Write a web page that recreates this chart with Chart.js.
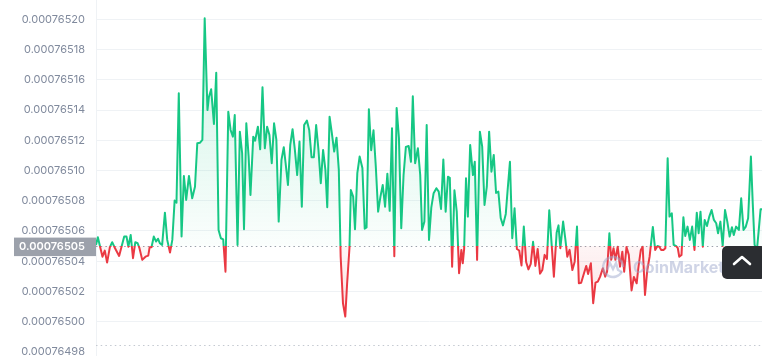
<!DOCTYPE html>
<html><head><meta charset="utf-8">
<script src="https://cdn.jsdelivr.net/npm/chart.js"></script>
<style>
html,body{margin:0;padding:0;background:#fff;overflow:hidden;width:762px;height:356px}
#wrap{position:relative;width:762px;height:356px}
canvas{display:block}
#up{position:absolute;left:722px;top:246px;width:44px;height:33px;background:#2b2d31;border-radius:5px}
#up svg{position:absolute;left:0;top:0}
</style></head>
<body><div id="wrap"><canvas id="c" width="762" height="356"></canvas>
<div id="up"><svg width="44" height="33"><polyline points="12,18 20,11 28,18" fill="none" stroke="#fff" stroke-width="2.6" stroke-linecap="round" stroke-linejoin="round"/></svg></div></div>
<script>
// time of each sample, minutes from start of the 24h window
const times = [
0,4,14,19,24,30,35,40,50,61,
66,70,75,80,85,90,94,100,107,113,
116,120,125,130,134,138,143,149,154,160,
165,170,174,179,185,190,195,201,208,214,
219,225,230,235,241,244,249,255,260,265,
270,275,280,286,291,296,300,306,311,316,
320,325,330,334,340,344,350,355,360,365,
370,375,380,385,390,395,401,406,410,415,
420,425,430,435,440,445,450,456,461,466,
471,476,481,486,491,496,500,505,510,515,
520,525,529,534,539,543,548,551,556,560,
565,570,576,581,585,590,595,600,605,610,
615,620,625,630,635,640,645,650,655,660,
665,670,676,681,685,690,696,701,705,710,
715,720,725,730,736,741,746,751,756,761,
765,770,775,780,785,790,793,796,800,804,
809,815,819,824,830,835,840,845,850,855,
860,865,870,875,880,886,890,895,900,905,
910,915,920,925,930,935,940,945,950,955,
960,965,970,975,980,986,990,996,1000,1004,
1010,1015,1019,1024,1030,1035,1040,1044,1049,1054,
1060,1064,1070,1075,1080,1085,1090,1096,1101,1105,
1110,1114,1119,1123,1128,1133,1138,1142,1147,1152,
1158,1163,1169,1173,1178,1182,1187,1192,1197,1204,
1209,1214,1218,1222,1227,1231,1236,1240,1245,1249,
1254,1258,1261,1266,1270,1274,1279,1284,1289,1294,
1299,1303,1307,1312,1316,1321,1326,1331,1336,1341,
1345,1350,1355,1360,1365,1370,1375,1379,1384,1390,
1395,1400,1405,1410,1416,1420,1424,1429,1433,1437,
1440];

const prices = [
0.0007650508,0.0007650559,0.0007650430,0.0007650470,0.0007650391,0.0007650493,0.0007650526,0.0007650493,0.0007650435,0.0007650563,
0.0007650563,0.0007650496,0.0007650574,0.0007650420,0.0007650526,0.0007650519,0.0007650486,0.0007650409,0.0007650430,0.0007650437,
0.0007650493,0.0007650493,0.0007650563,0.0007650530,0.0007650549,0.0007650519,0.0007650508,0.0007650721,0.0007650541,0.0007650457,
0.0007650541,0.0007650801,0.0007650787,0.0007651511,0.0007650563,0.0007650964,0.0007650805,0.0007650964,0.0007650816,0.0007650893,
0.0007651180,0.0007651184,0.0007651202,0.0007652007,0.0007651400,0.0007651484,0.0007651537,0.0007651308,0.0007651647,0.0007650607,
0.0007650552,0.0007650545,0.0007650331,0.0007651389,0.0007651268,0.0007651224,0.0007651367,0.0007650508,0.0007651257,0.0007651114,
0.0007650612,0.0007651312,0.0007651092,0.0007650838,0.0007651224,0.0007651197,0.0007651290,0.0007651140,0.0007651550,0.0007651147,
0.0007651290,0.0007651235,0.0007651048,0.0007651312,0.0007651202,0.0007650662,0.0007651070,0.0007651154,0.0007651048,0.0007650904,
0.0007651169,0.0007651273,0.0007651136,0.0007650970,0.0007651191,0.0007650761,0.0007651301,0.0007651330,0.0007651268,0.0007651088,
0.0007651088,0.0007651301,0.0007651136,0.0007650916,0.0007651136,0.0007651004,0.0007650757,0.0007651356,0.0007651246,0.0007651125,
0.0007651217,0.0007651004,0.0007650430,0.0007650122,0.0007650034,0.0007650254,0.0007650486,0.0007650871,0.0007650827,0.0007650612,
0.0007650982,0.0007651092,0.0007651017,0.0007650615,0.0007650623,0.0007651405,0.0007651134,0.0007651266,0.0007651025,0.0007650728,
0.0007650827,0.0007650904,0.0007650761,0.0007650979,0.0007650733,0.0007651279,0.0007650433,0.0007651414,0.0007651215,0.0007650618,
0.0007650970,0.0007651156,0.0007651162,0.0007651058,0.0007651491,0.0007651048,0.0007651147,0.0007650970,0.0007650607,0.0007650662,
0.0007651301,0.0007650541,0.0007650756,0.0007650850,0.0007650883,0.0007650860,0.0007650746,0.0007651072,0.0007650728,0.0007650959,
0.0007650952,0.0007650364,0.0007650869,0.0007650728,0.0007650321,0.0007650475,0.0007650387,0.0007650481,0.0007650949,0.0007650695,
0.0007651169,0.0007650970,0.0007651058,0.0007650409,0.0007651257,0.0007651158,0.0007650772,0.0007650893,0.0007651257,0.0007650992,
0.0007651103,0.0007650852,0.0007650860,0.0007650686,0.0007650637,0.0007650713,0.0007650871,0.0007651058,0.0007650552,0.0007650750,
0.0007650481,0.0007650471,0.0007650372,0.0007650629,0.0007650395,0.0007650346,0.0007650382,0.0007650528,0.0007650369,0.0007650481,
0.0007650318,0.0007650342,0.0007650442,0.0007650415,0.0007650737,0.0007650475,0.0007650298,0.0007650590,0.0007650637,0.0007650486,
0.0007650662,0.0007650541,0.0007650430,0.0007650475,0.0007650342,0.0007650397,0.0007650629,0.0007650254,0.0007650258,0.0007650309,
0.0007650369,0.0007650316,0.0007650387,0.0007650122,0.0007650258,0.0007650265,0.0007650298,0.0007650354,0.0007650298,0.0007650331,
0.0007650585,0.0007650409,0.0007650486,0.0007650409,0.0007650496,0.0007650364,0.0007650463,0.0007650331,0.0007650494,0.0007650442,
0.0007650207,0.0007650296,0.0007650254,0.0007650364,0.0007650475,0.0007650496,0.0007650177,0.0007650342,0.0007650430,0.0007650627,
0.0007650475,0.0007650501,0.0007650496,0.0007650475,0.0007650475,0.0007650486,0.0007651081,0.0007650695,0.0007650717,0.0007650508,
0.0007650501,0.0007650486,0.0007650430,0.0007650442,0.0007650691,0.0007650567,0.0007650629,0.0007650541,0.0007650629,0.0007650475,
0.0007650721,0.0007650585,0.0007650728,0.0007650496,0.0007650673,0.0007650633,0.0007650695,0.0007650739,0.0007650673,0.0007650651,
0.0007650585,0.0007650662,0.0007650501,0.0007650739,0.0007650662,0.0007650563,0.0007650625,0.0007650574,0.0007650629,0.0007650607,
0.0007650816,0.0007650607,0.0007650629,0.0007650684,0.0007651092,0.0007650783,0.0007650508,0.0007650475,0.0007650607,0.0007650744,
0.0007650744];

const yTickLabels = ['0.00076498','0.00076500','0.00076502','0.00076504','0.00076506','0.00076508',
  '0.00076510','0.00076512','0.00076514','0.00076516','0.00076518','0.00076520'];
const baselinePrice = 0.00076505;
const floorLinePrice = 0.0007649844;
const yMin = 0.00076497732, yMax = 0.00076521276;

const GREEN = '#16c784', RED = '#ea3943';
const points = times.map((t, i) => ({x: t, y: prices[i]}));

const gradPlugin = {
  id: 'grad',
  afterLayout(chart) {
    const a = chart.chartArea, y0 = chart.scales.y.getPixelForValue(baselinePrice);
    const c = chart.ctx;
    const f = Math.min(1, Math.max(0, (y0 - a.top) / (a.bottom - a.top)));
    const stroke = c.createLinearGradient(0, a.top, 0, a.bottom);
    stroke.addColorStop(0, GREEN); stroke.addColorStop(f, GREEN);
    stroke.addColorStop(f, RED); stroke.addColorStop(1, RED);
    const up = c.createLinearGradient(0, a.top + 18, 0, y0);
    up.addColorStop(0, 'rgba(22,199,132,0.22)'); up.addColorStop(1, 'rgba(22,199,132,0.02)');
    const dn = c.createLinearGradient(0, y0, 0, y0 + 70);
    dn.addColorStop(0, 'rgba(234,57,67,0.05)'); dn.addColorStop(1, 'rgba(234,57,67,0.16)');
    const ds = chart.data.datasets[0];
    ds.borderColor = stroke;
    ds.fill = {target: {value: baselinePrice}, above: up, below: dn};
  },
  beforeDatasetsDraw(chart) {
    const c = chart.ctx, a = chart.chartArea, ys = chart.scales.y;
    c.save();
    c.lineWidth = 1;
    c.setLineDash([1.5, 3.2]);
    c.strokeStyle = '#9aa0aa';
    let y = Math.round(ys.getPixelForValue(baselinePrice)) + 0.5;
    c.beginPath(); c.moveTo(a.left, y); c.lineTo(a.right, y); c.stroke();
    c.strokeStyle = '#c4c9d1';
    y = Math.round(ys.getPixelForValue(floorLinePrice)) + 0.5;
    c.beginPath(); c.moveTo(a.left, y); c.lineTo(a.right, y); c.stroke();
    c.restore();
  },
  afterDatasetsDraw(chart) {
    // watermark
    const c = chart.ctx, a = chart.chartArea;
    const cx = a.right - 149, cy = a.bottom - 89;
    c.save();
    c.strokeStyle = 'rgba(160,170,205,0.5)';
    c.fillStyle = 'rgba(160,170,205,0.5)';
    c.lineWidth = 2.4;
    c.beginPath(); c.arc(cx, cy, 10, Math.PI * 0.15, Math.PI * 2.0); c.stroke();
    c.beginPath();
    c.moveTo(cx - 6, cy + 3); c.lineTo(cx - 3, cy - 4); c.lineTo(cx, cy + 2);
    c.lineTo(cx + 3, cy - 4); c.lineTo(cx + 5, cy + 3); c.lineTo(cx + 9, cy + 5);
    c.stroke();
    c.font = '700 16px Inter';
    c.textBaseline = 'middle';
    c.fillText('CoinMarketCap', cx + 20, cy + 1);
    c.restore();
  },
  afterDraw(chart) {
    const c = chart.ctx, a = chart.chartArea, ys = chart.scales.y;
    const y = ys.getPixelForValue(baselinePrice);
    c.save();
    c.fillStyle = '#9ca1ab';
    c.fillRect(14, y - 8.5, a.left - 14, 18.5);
    c.fillStyle = '#ffffff';
    c.font = '600 11px Inter';
    c.textAlign = 'right';
    c.textBaseline = 'middle';
    c.fillText(baselinePrice.toFixed(8), 85, y + 1);
    c.restore();
  }
};

new Chart(document.getElementById('c'), {
  type: 'line',
  data: {datasets: [{
    data: points,
    borderColor: GREEN,
    borderWidth: 2,
    pointRadius: 0,
    tension: 0,
    borderJoinStyle: 'round',
    fill: {target: {value: baselinePrice}}
  }]},
  options: {
    responsive: false,
    animation: false,
    events: [],
    layout: {padding: 0},
    plugins: {legend: {display: false}, tooltip: {enabled: false}},
    scales: {
      x: {type: 'linear', display: false, min: 0, max: 1440},
      y: {
        min: yMin, max: yMax,
        afterBuildTicks: s => { s.ticks = yTickLabels.map(v => ({value: parseFloat(v)})); },
        afterFit: s => { s.width = 96; s.paddingTop = 0; s.paddingBottom = 0; },
        grid: {drawTicks: false, color: ctx => (ctx.tick && ctx.tick.value < 0.000764995) ? 'rgba(0,0,0,0)' : '#eff2f5'},
        border: {color: '#eff2f5'},
        ticks: {padding: 11, color: '#808a9d', font: {family: 'Inter', size: 11},
          callback: v => Number(v).toFixed(8)}
      }
    }
  },
  plugins: [gradPlugin]
});
</script></body></html>
